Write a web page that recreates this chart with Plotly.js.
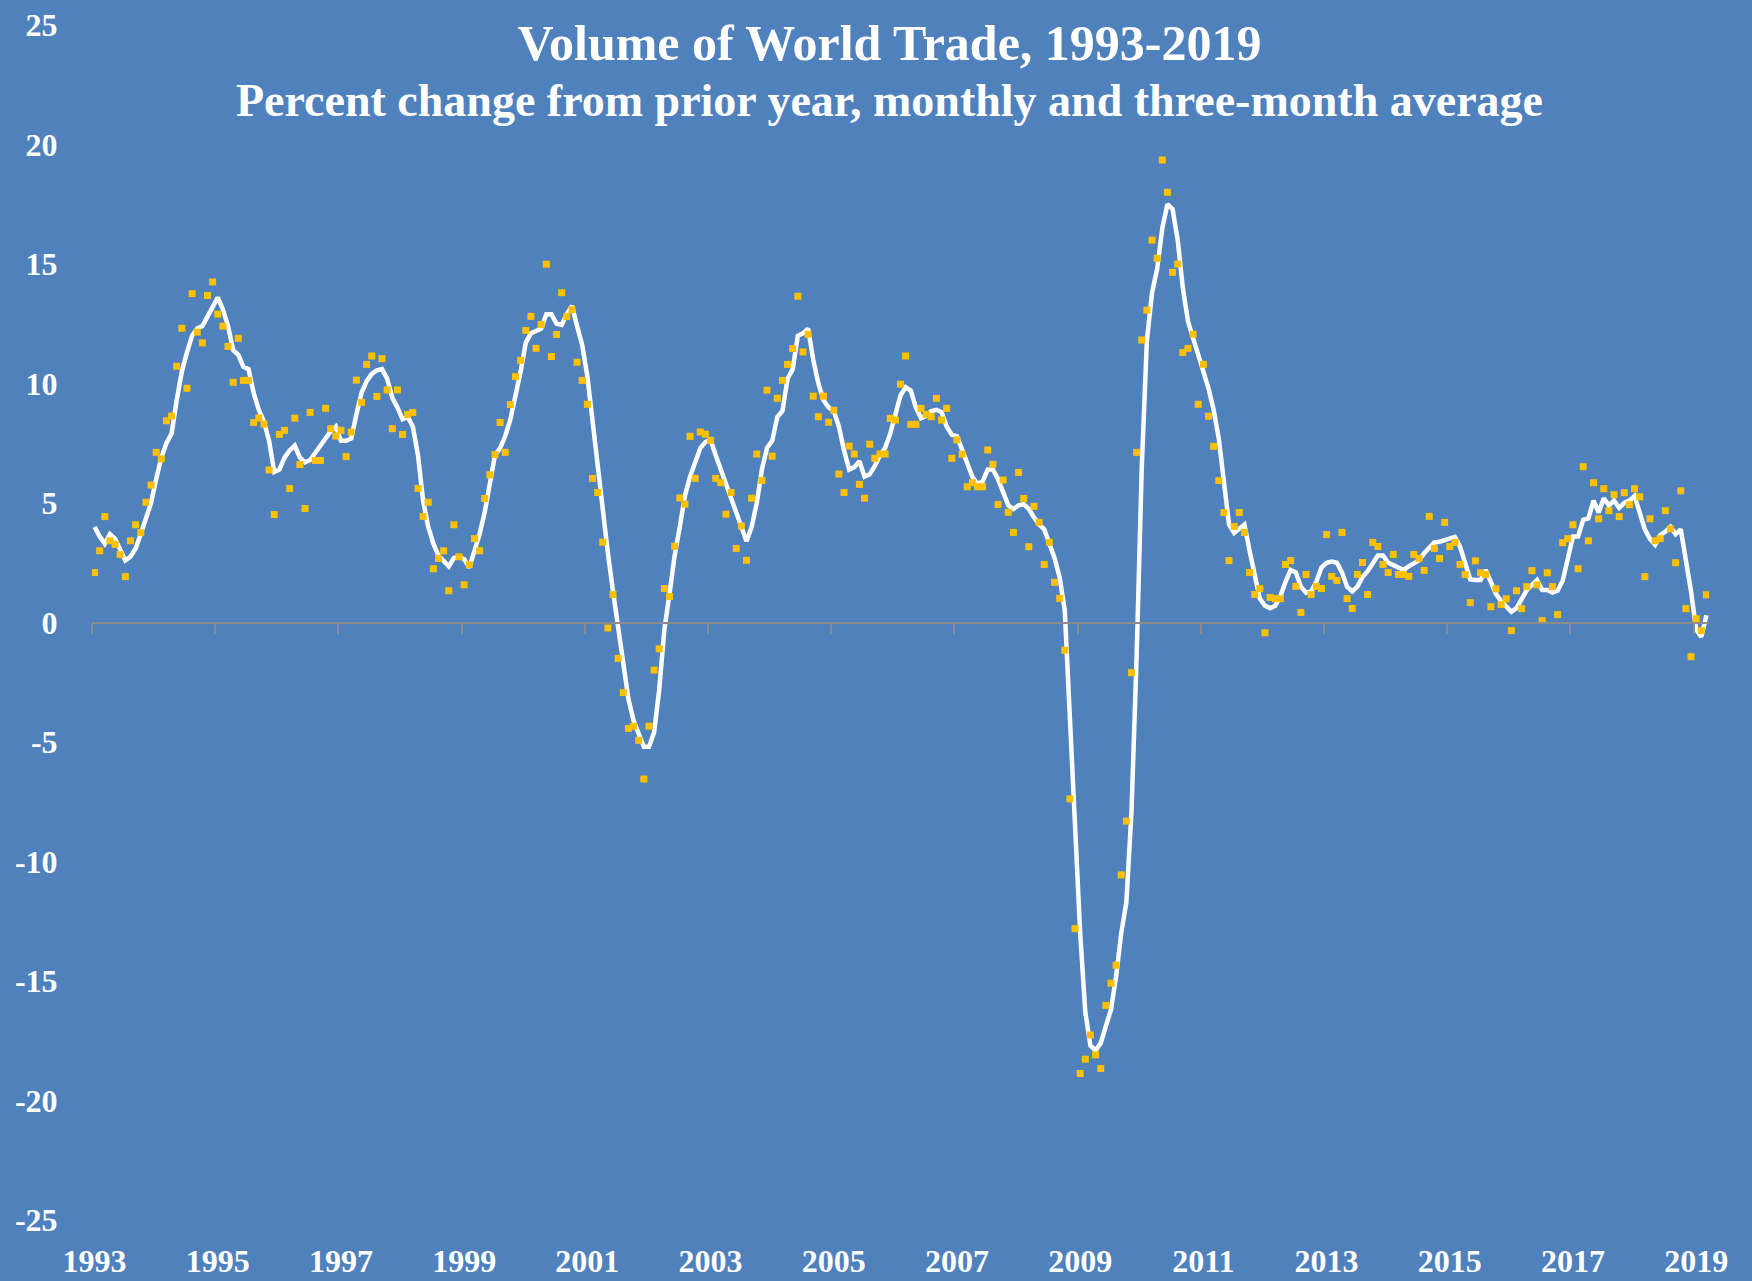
<!DOCTYPE html>
<html>
<head>
<meta charset="utf-8">
<script src="https://cdn.plot.ly/plotly-3.0.1.min.js"></script>
<style>
html, body { margin: 0; padding: 0; background: #4F81BD; }
#chart { width: 1752px; height: 1281px; }
</style>
</head>
<body>
<div id="chart"></div>
<script>
// Monthly data, January 1993 through March 2019
const startYear = 1993;

// Percent change from prior year, monthly (gold squares)
const monthlyChange = [
  2.09, 3.0, 4.43, 3.42, 3.27, 2.84, 1.92, 3.42, 4.09, 3.76, 5.03, 5.75,
  7.12, 6.85, 8.44, 8.64, 10.72, 12.31, 9.8, 13.76, 12.15, 11.7, 13.68, 14.25,
  12.9, 12.4, 11.55, 10.05, 11.89, 10.13, 10.13, 8.37, 8.56, 8.3, 6.38, 4.52,
  7.87, 8.04, 5.61, 8.55, 6.61, 4.77, 8.79, 6.78, 6.78, 8.96, 8.11, 7.8,
  8.04, 6.94, 7.97, 10.14, 9.21, 10.8, 11.15, 9.46, 11.04, 9.73, 8.11, 9.73,
  7.87, 8.7, 8.79, 5.61, 4.44, 5.03, 2.25, 2.68, 3.0, 1.33, 4.09, 2.75,
  1.58, 2.42, 3.51, 3.0, 5.19, 6.18, 7.03, 8.37, 7.12, 9.12, 10.29, 10.97,
  12.22, 12.81, 11.47, 12.47, 14.99, 11.13, 12.05, 13.8, 12.8, 13.09, 10.89, 10.13,
  9.13, 6.03, 5.44, 3.36, -0.23, 1.17, -1.5, -2.93, -4.43, -4.34, -4.93, -6.55,
  -4.34, -1.99, -1.1, 1.42, 1.09, 3.19, 5.21, 4.95, 7.79, 6.03, 7.97, 7.88,
  7.62, 6.03, 5.85, 4.53, 5.44, 3.1, 4.04, 2.6, 5.2, 7.05, 5.94, 9.72,
  6.96, 9.38, 10.13, 10.8, 11.46, 13.65, 11.32, 12.06, 9.47, 8.61, 9.47, 8.38,
  8.88, 6.21, 5.44, 7.38, 7.05, 5.78, 5.2, 7.46, 6.87, 7.05, 7.05, 8.54,
  8.47, 9.97, 11.15, 8.29, 8.29, 8.96, 8.71, 8.61, 9.38, 8.47, 8.96, 6.87,
  7.64, 7.04, 5.68, 5.85, 5.68, 5.68, 7.22, 6.62, 4.94, 5.96, 4.61, 3.77,
  6.28, 5.19, 3.17, 4.86, 4.19, 2.43, 3.35, 1.68, 1.01, -1.16, -7.38, -12.81,
  -18.87, -18.27, -17.26, -18.09, -18.66, -16.02, -15.09, -14.34, -10.56, -8.31, -2.1, 7.12,
  11.82, 13.07, 16.0, 15.24, 19.35, 18.0, 14.65, 15.0, 11.3, 11.47, 12.06, 9.13,
  10.8, 8.63, 7.37, 5.94, 4.6, 2.59, 4.02, 4.6, 3.77, 2.09, 1.17, 1.42,
  -0.43, 1.05, 1.0, 1.0, 2.43, 2.59, 1.51, 0.42, 2.01, 1.17, 1.51, 1.42,
  3.68, 1.93, 1.76, 3.77, 1.0, 0.59, 2.01, 2.51, 1.17, 3.35, 3.18, 2.43,
  2.09, 2.85, 2.01, 2.01, 1.93, 2.85, 2.68, 2.18, 4.44, 3.1, 2.68, 4.19,
  3.18, 3.35, 2.43, 2.01, 0.83, 2.58, 2.08, 2.01, 0.66, 1.41, 0.75, 0.99,
  -0.34, 1.33, 0.58, 1.5, 2.17, 1.58, 0.08, 2.08, 1.5, 0.33, 3.34, 3.51,
  4.09, 2.25, 6.52, 3.42, 5.85, 4.34, 5.6, 4.68, 5.35, 4.43, 5.43, 4.93,
  5.6, 5.26, 1.92, 4.34, 3.42, 3.51, 4.68, 3.92, 2.5, 5.51, 0.58, -1.43,
  0.16, -0.34, 1.16
];

// Three-month average (white line)
const threeMonthAverage = [
  4.0, 3.6, 3.3, 3.7, 3.5, 3.0, 2.6, 2.75, 3.1, 3.7, 4.3, 5.0,
  6.0, 6.9, 7.5, 7.9, 9.3, 10.5, 11.3, 12.0, 12.3, 12.4, 12.8, 13.2,
  13.6, 13.1, 12.4, 11.4, 11.2, 10.7, 10.6, 9.6, 8.9, 8.4, 7.6, 6.3,
  6.4, 6.9, 7.2, 7.4, 6.9, 6.7, 6.8, 7.1, 7.4, 7.7, 8.0, 8.2,
  7.6, 7.6, 7.7, 8.7, 9.6, 10.1, 10.4, 10.55, 10.6, 10.2, 9.4, 9.0,
  8.5, 8.6, 8.2, 7.0, 5.1, 4.0, 3.3, 2.8, 2.6, 2.35, 2.7, 2.75,
  2.65, 2.3, 3.0, 3.7, 4.6, 5.8, 7.0, 7.3, 7.8, 8.5, 9.4, 10.5,
  11.7, 12.1, 12.2, 12.3, 12.9, 12.9, 12.5, 12.45, 12.9, 13.25, 12.4, 11.6,
  10.3, 8.4, 6.6, 4.7, 2.9, 1.3, -0.3, -1.7, -3.2, -4.1, -4.6, -5.2,
  -5.2, -4.6, -2.8, -0.3, 1.2, 2.8, 4.0, 5.3, 6.1, 6.7, 7.3, 7.55,
  7.65, 7.0, 6.4, 5.9, 5.3, 4.6, 4.0, 3.4, 4.0, 5.0, 6.4, 7.3,
  7.6, 8.6, 8.85, 10.2, 10.6, 12.0, 12.1, 12.3, 11.0, 10.0, 9.3, 9.0,
  8.85, 8.2, 7.2, 6.4, 6.5, 6.75, 6.1, 6.2, 6.55, 7.0, 7.3, 7.9,
  8.7, 9.5, 9.85, 9.7, 9.0, 8.55, 8.65, 8.85, 8.9, 8.8, 8.2, 7.85,
  7.8, 7.2, 6.6, 6.1, 5.8, 5.9, 6.4, 6.4, 6.0, 5.5, 4.9, 4.75,
  4.9, 4.95, 4.75, 4.4, 4.1, 3.9, 3.35, 2.7, 1.9, 0.5, -4.0, -8.3,
  -13.0, -16.3, -17.7, -17.9, -17.6, -16.9, -16.2, -14.8, -13.0, -11.7, -7.9, -1.4,
  6.5, 11.8, 13.8, 14.8, 16.5, 17.5, 17.3, 16.0, 14.0, 12.6, 11.9, 11.1,
  10.5, 9.8, 8.9, 7.7, 5.9, 4.1, 3.75, 3.9, 4.1, 3.0, 2.0, 1.0,
  0.7, 0.6, 0.7, 1.1, 1.7, 2.2, 2.1, 1.5, 1.25, 1.3, 1.7, 2.3,
  2.5, 2.55, 2.5, 2.1, 1.5, 1.3, 1.5, 1.9, 2.15, 2.5, 2.8, 2.8,
  2.5, 2.4, 2.3, 2.2, 2.35, 2.5, 2.6, 2.9, 3.15, 3.35, 3.38, 3.45,
  3.52, 3.58, 3.17, 2.55, 1.8, 1.78, 1.78, 2.2, 1.64, 1.2, 0.9, 0.7,
  0.45, 0.6, 1.0, 1.35, 1.57, 1.78, 1.36, 1.36, 1.25, 1.33, 1.75, 2.6,
  3.6, 3.6, 4.3, 4.36, 5.1, 4.6, 5.2, 4.9, 5.1, 4.8, 5.0, 5.1,
  5.3, 4.6, 3.9, 3.5, 3.25, 3.66, 3.8, 4.0, 3.7, 3.9, 2.6, 1.3,
  -0.3, -0.6, 0.3
];

// Year labels shown on the horizontal axis
const tickYears = [1993, 1995, 1997, 1999, 2001, 2003, 2005, 2007, 2009, 2011, 2013, 2015, 2017, 2019];
// Value labels on the vertical axis (hyphen minus, as in the original)
const yTickValues = [-25, -20, -15, -10, -5, 0, 5, 10, 15, 20, 25];

// Category labels (one per month)
const monthLabels = monthlyChange.map((_, i) => {
  const y = startYear + Math.floor(i / 12);
  const m = (i % 12) + 1;
  return y + '-' + String(m).padStart(2, '0');
});
const xIndex = monthlyChange.map((_, i) => i);
const tickIdx = tickYears.map(y => (y - startYear) * 12);
const boundaryIdx = tickIdx.map(i => i - 0.5);
const xRange = [-0.5, monthlyChange.length - 0.5];

const serif = '"Liberation Serif", "Times New Roman", serif';

const traces = [
  {
    x: xIndex, y: threeMonthAverage, customdata: monthLabels,
    type: 'scatter', mode: 'lines', name: 'Three-month average',
    line: { color: '#FFFFFF', width: 4.5, shape: 'linear' },
    hovertemplate: '%{customdata}: %{y}<extra></extra>'
  },
  {
    x: xIndex, y: monthlyChange, customdata: monthLabels,
    type: 'scatter', mode: 'markers', name: 'Monthly',
    marker: { symbol: 'square', size: 7, color: '#FFC000', line: { width: 0 } },
    hovertemplate: '%{customdata}: %{y}<extra></extra>'
  },
  {
    // invisible helper so the category axis crossing at zero is drawn
    x: xRange, y: [0, 0], xaxis: 'x2', type: 'scatter', mode: 'lines',
    line: { width: 0 }, hoverinfo: 'skip', showlegend: false
  }
];

const layout = {
  width: 1752, height: 1281,
  paper_bgcolor: '#4F81BD', plot_bgcolor: '#4F81BD',
  margin: { l: 92, r: 43, t: 25, b: 61 },
  showlegend: false,
  font: { family: serif, color: '#FFFFFF', size: 32 },
  title: {
    text: '<b>Volume of World Trade, 1993-2019</b>',
    font: { family: serif, size: 50, color: '#FFFFFF' },
    xref: 'paper', x: 0.4932, xanchor: 'center',
    yref: 'container', y: 1 - 42 / 1281, yanchor: 'middle'
  },
  annotations: [{
    text: '<b>Percent change from prior year, monthly and three-month average</b>',
    font: { family: serif, size: 46, color: '#FFFFFF' },
    xref: 'paper', x: 0.4932, xanchor: 'center',
    yref: 'paper', y: (1220 - 100) / 1195, yanchor: 'middle',
    showarrow: false
  }],
  xaxis: {
    type: 'linear', range: xRange, fixedrange: true,
    tickmode: 'array', tickvals: tickIdx, ticktext: tickYears.map(String),
    showgrid: false, zeroline: false, showline: false,
    ticks: 'outside', ticklen: 13, tickcolor: 'rgba(0,0,0,0)',
    tickfont: { family: serif, size: 32, color: '#FFFFFF', weight: 'bold' }
  },
  xaxis2: {
    type: 'linear', range: xRange, overlaying: 'x', anchor: 'free', position: 0.5,
    side: 'bottom', fixedrange: true,
    tickmode: 'array', tickvals: boundaryIdx, showticklabels: false,
    showgrid: false, zeroline: false,
    showline: true, linecolor: '#8C8C8C', linewidth: 2,
    ticks: 'outside', ticklen: 10, tickwidth: 2, tickcolor: '#8C8C8C'
  },
  yaxis: {
    range: [-25, 25], fixedrange: true,
    tickmode: 'array', tickvals: yTickValues, ticktext: yTickValues.map(String),
    showgrid: false, zeroline: false, showline: false,
    ticks: 'outside', ticklen: 27, tickcolor: 'rgba(0,0,0,0)',
    tickfont: { family: serif, size: 32, color: '#FFFFFF', weight: 'bold' }
  }
};

Plotly.newPlot('chart', traces, layout, { displayModeBar: false, staticPlot: true });
</script>
</body>
</html>
